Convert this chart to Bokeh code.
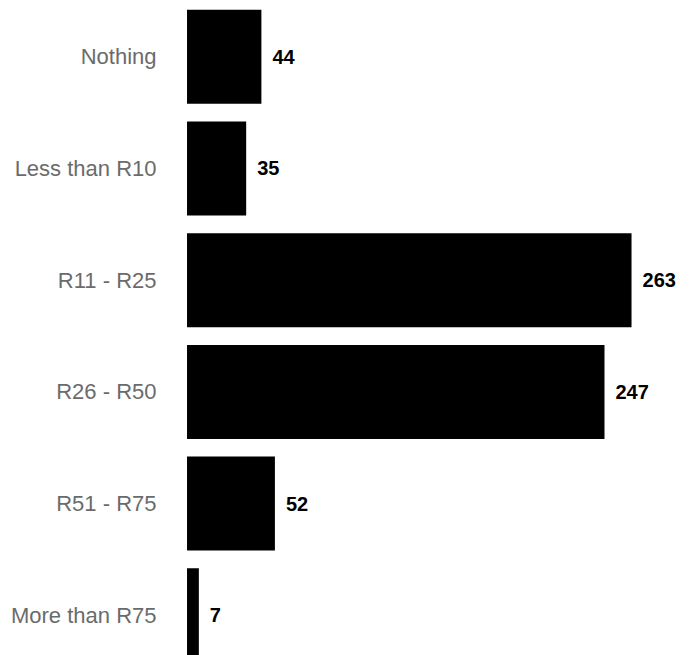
from bokeh.plotting import figure
from bokeh.models import ColumnDataSource, Range1d, FixedTicker
from bokeh.core.properties import value
from bokeh.embed import file_html
from bokeh.resources import INLINE

categories = ["Nothing", "Less than R10", "R11 - R25", "R26 - R50", "R51 - R75", "More than R75"]
counts = [44, 35, 263, 247, 52, 7]
positions = list(range(len(categories)))

src = ColumnDataSource(dict(y=positions, x=counts, label=[str(c) for c in counts]))

p = figure(width=689, height=655, output_backend="svg", toolbar_location=None,
           x_range=Range1d(-0.9, 297.3), y_range=Range1d(5.36, -0.504),
           min_border_left=185, min_border_right=0, min_border_top=0, min_border_bottom=0)

p.hbar(y="y", right="x", left=0, height=0.8415, source=src, fill_color="black", line_color=None)
p.text(x="x", y="y", text="label", source=src, x_offset=11, text_align="left",
       text_baseline="middle", text_font=value("Liberation Sans"), text_font_size="20px",
       text_font_style="bold", text_color="black")

p.xaxis.visible = False
p.yaxis.ticker = FixedTicker(ticks=positions)
p.yaxis.major_label_overrides = {i: c for i, c in enumerate(categories)}
p.yaxis.axis_line_color = None
p.yaxis.major_tick_line_color = None
p.yaxis.minor_tick_line_color = None
p.yaxis.major_tick_out = 0
p.yaxis.major_tick_in = 0
p.yaxis.major_label_standoff = 29
p.yaxis.major_label_text_font = "Liberation Sans"
p.yaxis.major_label_text_font_size = "22px"
p.yaxis.major_label_text_color = "#6b6b6b"
p.grid.visible = False
p.outline_line_color = None

open("out.html", "w").write(file_html(p, INLINE))
